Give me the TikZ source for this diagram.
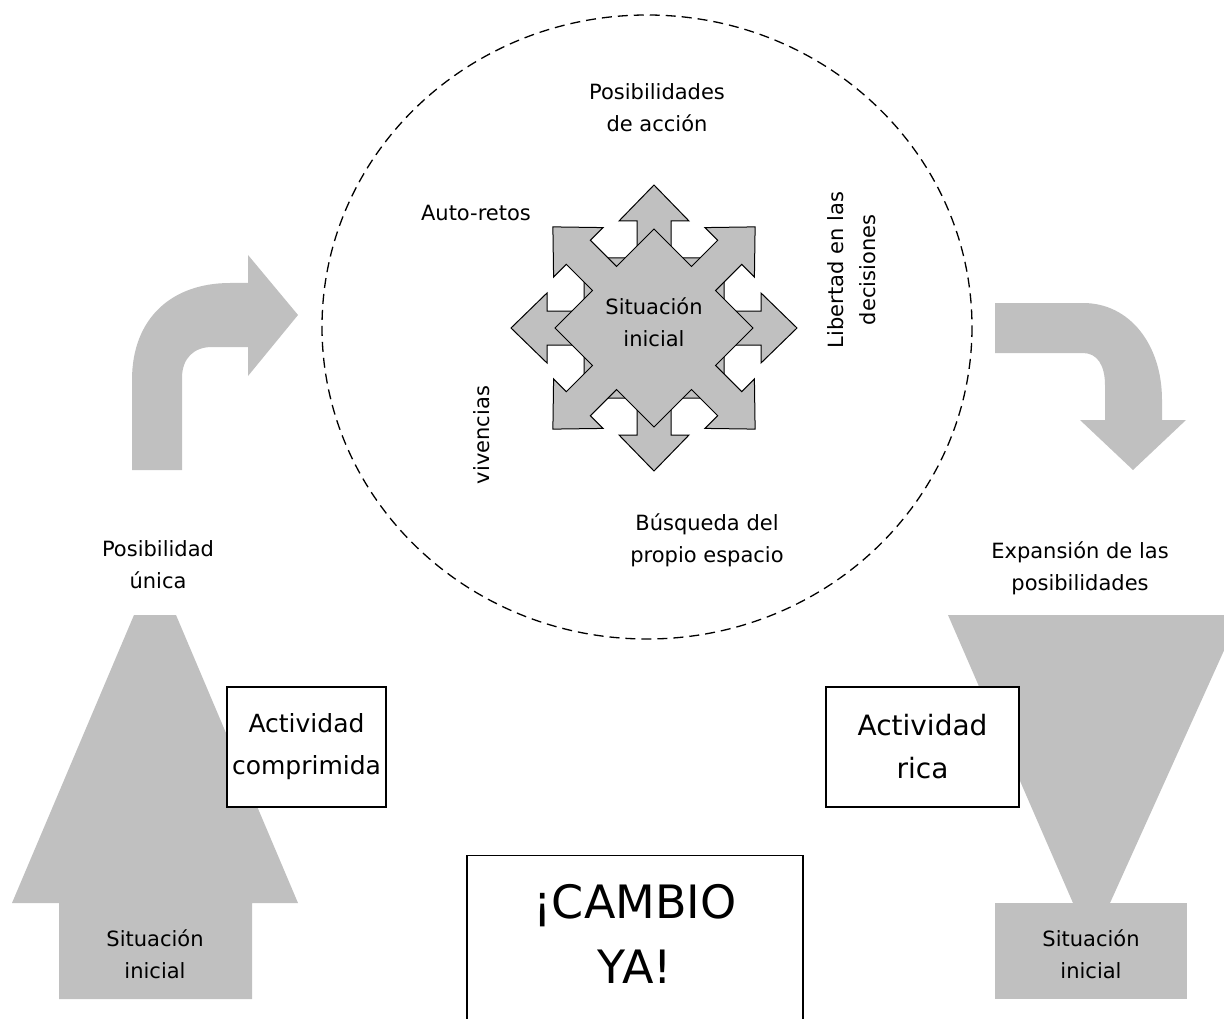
\documentclass[tikz,border=0pt]{standalone}
\usepackage{fontspec}
\setmainfont{DejaVu Sans}
\definecolor{shade}{HTML}{C0C0C0}
\begin{document}
\begin{tikzpicture}[x=1pt,y=-1pt,
  lab/.style={align=center, font=\fontsize{21}{32}\selectfont, inner sep=0pt},
  boxnode/.style={draw, line width=1.3pt, fill=white, align=center, inner sep=0pt, font=\fontsize{25}{42}\selectfont},
  bigtxt/.style={align=center, inner sep=0pt, font=\fontsize{46}{65}\selectfont},
  ghost/.style={fill=shade, draw=none},
  quadarrow/.pic={
    \draw[fill=shade, line width=1pt, line join=miter]
      (70,17) -- (107,17) -- (107,35) -- (143,0) -- (107,-35) -- (107,-17) -- (70,-17)
      -- (70,-70) -- (17,-70) -- (17,-107) -- (35,-107) -- (0,-143) -- (-35,-107) -- (-17,-107) -- (-17,-70)
      -- (-70,-70) -- (-70,-17) -- (-107,-17) -- (-107,-35) -- (-143,0) -- (-107,35) -- (-107,17) -- (-70,17)
      -- (-70,70) -- (-17,70) -- (-17,107) -- (-35,107) -- (0,143) -- (35,107) -- (17,107) -- (17,70)
      -- (70,70) -- cycle;
  }]
\useasboundingbox (0,0) rectangle (1224,1019);
\clip (0,0) rectangle (1224,1019);
\fill[white] (0,0) rectangle (1224,1019);

% dashed ellipse
\draw[line width=1.3pt, dash pattern=on 10pt off 6pt] (647,327) ellipse [x radius=325, y radius=312];

% left big up arrow
\path[ghost] (134,615) -- (176,615) -- (298,903) -- (252,903) -- (252,999) -- (59,999) -- (59,903) -- (12,903) -- cycle;
% right funnel
\path[ghost] (948,615) -- (1240,615) -- (1110,903) -- (1073,903) -- cycle;
\path[ghost] (995,903) rectangle (1187,999);

% left curved arrow
\path[ghost] (132,470) -- (132,380) .. controls (132,318) and (172,283) .. (230,283) -- (248,283)
  -- (248,255) -- (298,315) -- (248,376) -- (248,347) -- (212,347)
  .. controls (194,347) and (182,358) .. (182,378) -- (182,470) -- cycle;
% right curved arrow
\path[ghost] (995,303) -- (1083,303) .. controls (1130,303) and (1162,345) .. (1162,400) -- (1162,420)
  -- (1186,420) -- (1133,470) -- (1080,420) -- (1105,420) -- (1105,385)
  .. controls (1105,365) and (1097,353) .. (1083,353) -- (995,353) -- cycle;

% central star
\pic at (654,328) {quadarrow};
\pic[rotate=45] at (654,328) {quadarrow};
\node[lab] (sitc) at (654,322) {Situación\\inicial};

% labels
\node[lab] (posib) at (657,108) {Posibilidades\\de acción};
\node[lab] (auto) at (476,213) {Auto-retos};
\node[lab, rotate=90] (libertad) at (852,270) {Libertad en las\\decisiones};
\node[lab, rotate=90] (viv) at (482,435) {vivencias};
\node[lab] (busq) at (707,540) {Búsqueda del\\propio espacio};
\node[lab] (punica) at (158,565) {Posibilidad\\única};
\node[lab] (expan) at (1080,568) {Expansión de las\\posibilidades};
\node[lab] (sitl) at (155,954) {Situación\\inicial};
\node[lab] (sitr) at (1091,954) {Situación\\inicial};

% boxes
\node[boxnode, minimum width=159, minimum height=120] (comp) at (306.5,747) {Actividad\\comprimida};
\node[boxnode, minimum width=193, minimum height=120, font=\fontsize{28}{43}\selectfont] (rica) at (922.5,747) {Actividad\\rica};
\node[boxnode, minimum width=336, minimum height=190, anchor=north] (cambio) at (635,855) {};
\node[bigtxt] (cambiotxt) at (635,934) {¡CAMBIO\\YA!};
\end{tikzpicture}
\end{document}
